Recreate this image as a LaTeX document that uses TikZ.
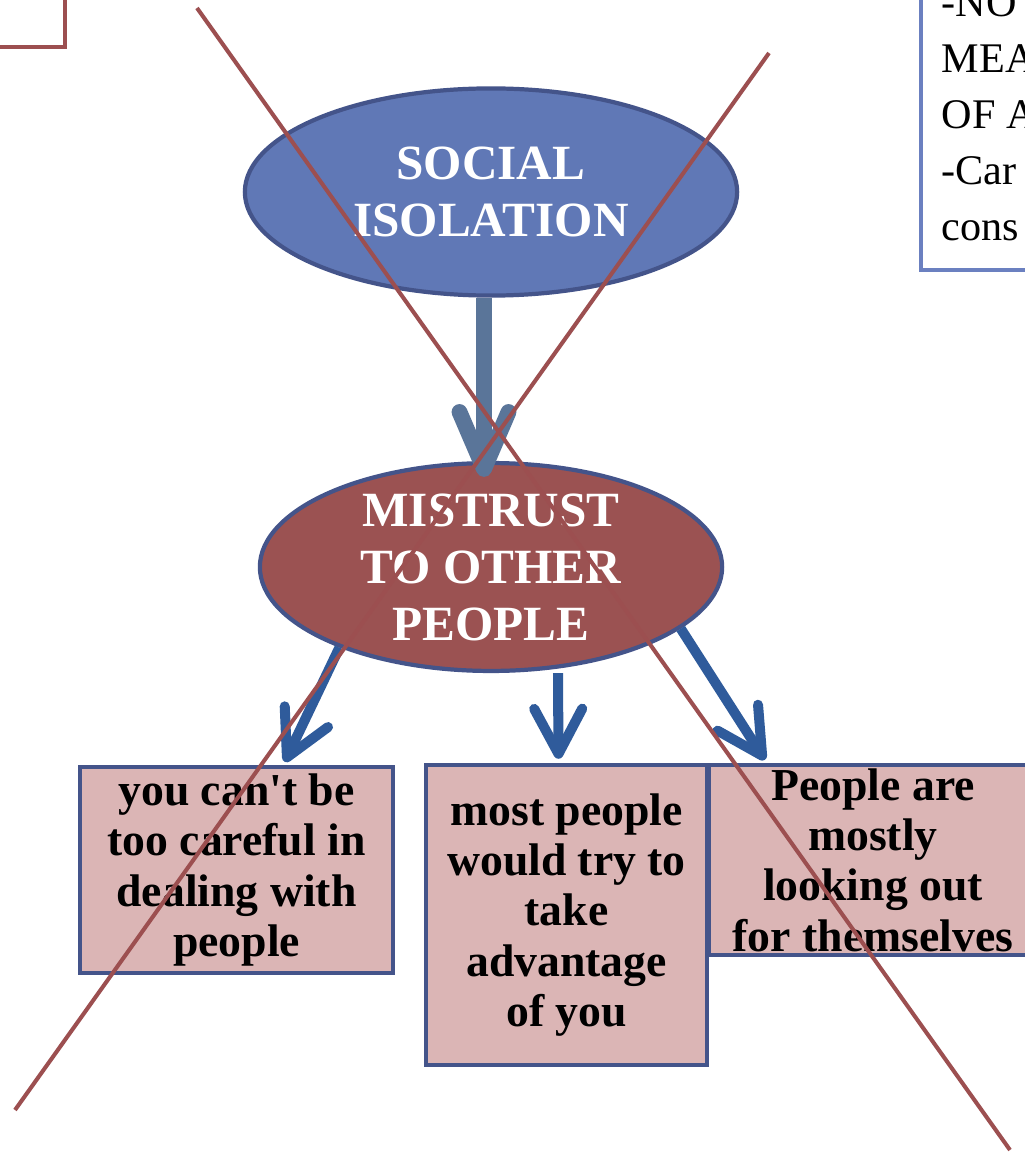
\documentclass[tikz,border=0pt]{standalone}
\usepackage{fontspec}
\setmainfont{Liberation Serif}[Ligatures=TeXOff]
\usepackage{tikz}
\usetikzlibrary{shapes.geometric,arrows.meta,calc}
\definecolor{crossred}{HTML}{9C4F50}
\definecolor{edgeblue}{HTML}{44548A}
\definecolor{socblue}{HTML}{6078B6}
\definecolor{misred}{HTML}{9B5252}
\definecolor{boxpink}{HTML}{DBB5B5}
\definecolor{slateblue}{HTML}{5A7599}
\definecolor{arrowblue}{HTML}{2F5B9B}
\definecolor{sideblue}{HTML}{6B80C0}
\tikzset{
    bubble/.style={ellipse, draw=edgeblue, line width=1.2pt, inner sep=0pt, text=white,
        align=center, font=\fontsize{14}{16.2}\selectfont\bfseries},
    reason/.style={rectangle, draw=edgeblue, line width=1.2pt, fill=boxpink, inner sep=0pt,
        align=center, font=\fontsize{13}{14.3}\selectfont\bfseries},
    leads/.style={draw=arrowblue, line width=2.85pt,
        -{Straight Barb[length=4.5mm,width=4.8mm,round]}},
    cross/.style={draw=crossred, line width=1.15pt},
    sideline/.style={anchor=base west, inner sep=0pt, font=\fontsize{12}{16}\selectfont},
}
\begin{document}
\begin{tikzpicture}[x=0.01cm,y=-0.01cm]
\useasboundingbox (0,0) rectangle (1025,1158);
\clip (0,0) rectangle (1025,1158);
\fill[white] (0,0) rectangle (1025,1158);
\draw[crossred, line width=1.4pt, fill=white] (-20,-20) rectangle (65,47);
\draw[sideblue, line width=1.15pt, fill=white] (921,-20) rectangle (1060,270);
\foreach \t [count=\i] in {-NO,MEA,OF A,-Car,cons}
  \node[sideline] (side\i) at (941,{17+56*(\i-1)}) {\t};
\node[bubble, fill=socblue, minimum width=4.92cm, minimum height=2.07cm] (soc) at (491,192) {SOCIAL\\ISOLATION};
\node[bubble, fill=misred, minimum width=4.62cm, minimum height=2.06cm] (mis) at (491,567) {MISTRUST\\TO OTHER\\PEOPLE};
\node[reason, minimum width=3.13cm, minimum height=2.06cm] (careful) at (236.5,870) {you can't be\\too careful in\\dealing with\\people};
\node[reason, minimum width=2.81cm, minimum height=3.0cm] (advantage) at (566.5,915) {most people\\would try to\\take\\advantage\\of you};
\node[reason, minimum width=3.28cm, minimum height=1.90cm] (themselves) at (873,860) {People are\\mostly\\looking out\\for themselves};
\draw[slateblue, line width=4.5pt, -{Straight Barb[length=5.7mm,width=4.9mm,round]}] ($(soc.south)+(-7,0)$) -- ($(mis.north)+(-7,16)$);
\draw[leads] (mis.208) -- ($(careful.north west)+(207,-3)$);
\draw[leads] ($(mis.south)+(67,0)$) -- ($(advantage.north)+(-8,-4)$);
\draw[leads] (mis.342) -- ($(themselves.north west)+(58,-3)$);
\draw[cross] (197,8) -- (1010,1150);
\draw[cross] (769,53) -- (15,1110);
\end{tikzpicture}
\end{document}
